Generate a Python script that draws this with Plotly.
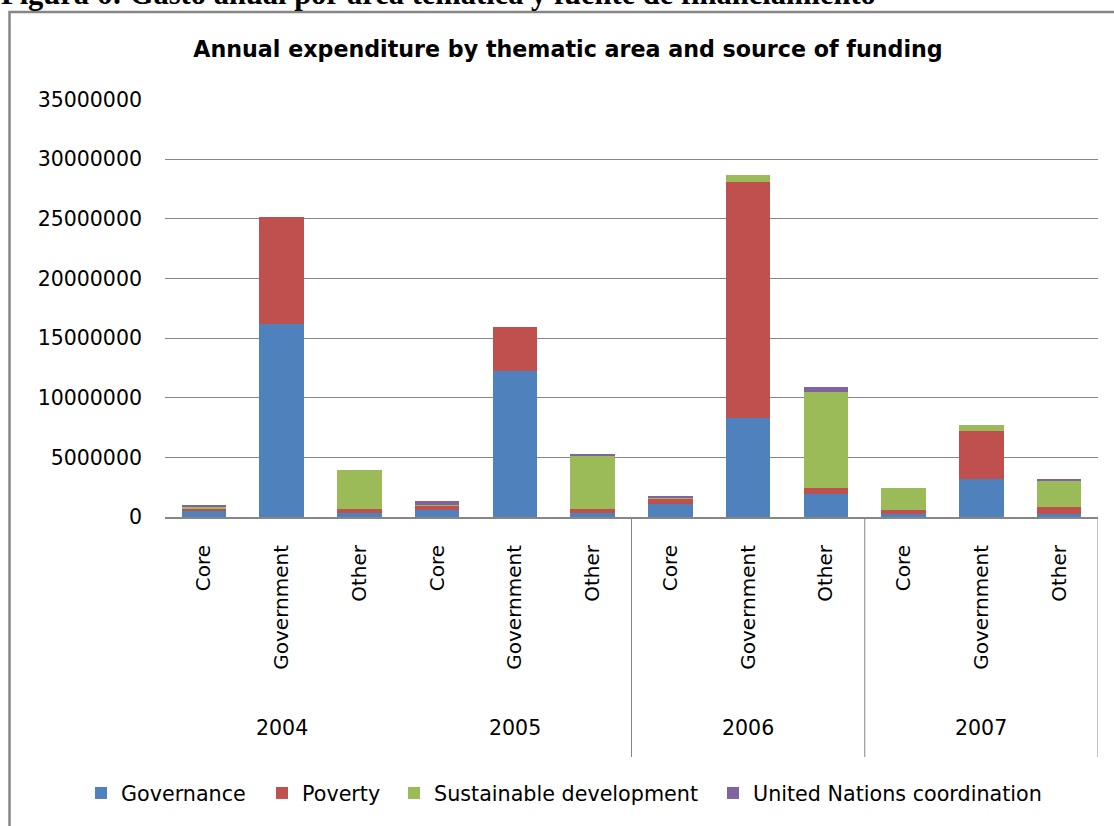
import plotly.graph_objects as go

# ---- data ----
years = ["2004", "2005", "2006", "2007"]
sources = ["Core", "Government", "Other"]
categories = [s for y in years for s in sources]

governance = [500000, 16200000, 330000, 610000, 12200000, 330000,
              1060000, 8300000, 1960000, 280000, 3150000, 280000]
poverty = [170000, 8900000, 340000, 340000, 3700000, 340000,
           480000, 19800000, 500000, 340000, 4040000, 590000]
sustainable = [170000, 0, 3270000, 80000, 0, 4520000,
               80000, 600000, 8000000, 1850000, 510000, 2190000]
un_coord = [100000, 0, 0, 310000, 0, 110000,
            80000, 0, 420000, 0, 0, 80000]

series = [
    ("Governance", governance, "#4F81BD"),
    ("Poverty", poverty, "#C0504D"),
    ("Sustainable development", sustainable, "#9BBB59"),
    ("United Nations coordination", un_coord, "#8064A2"),
]
y_ticks = [0, 5000000, 10000000, 15000000, 20000000, 25000000, 30000000, 35000000]

W, H = 1114, 826
L, R, T, B = 165, 16, 99, 309
PW, PH = W - L - R, H - T - B

def px_x(p):
    return (p - L) / PW

def px_y(p):
    return (H - B - p) / PH

FONT = "DejaVu Sans"
GRAY = "#868686"

# legend text start positions (pixels) for each series' own legend
legend_text_px = [121, 302, 434, 753]
legend_ids = ["legend", "legend2", "legend3", "legend4"]

xs = list(range(len(categories)))
fig = go.Figure()
for (name, vals, col), lid in zip(series, legend_ids):
    fig.add_trace(go.Bar(x=xs, y=vals, name=name, marker_color=col,
                         marker_line_width=0, legend=lid, showlegend=True))

shapes = []
# group dividers (as in the reference: after 2005, 2006, 2007)
for xv in [5.5, 8.5, 11.5]:
    shapes.append(dict(type="line", xref="x", yref="paper", x0=xv, x1=xv,
                       y0=0, y1=px_y(757), line=dict(color=GRAY, width=1)))
# chart frame
shapes.append(dict(type="rect", xref="paper", yref="paper",
                   x0=px_x(9.5), x1=px_x(1130), y0=px_y(845), y1=px_y(12),
                   line=dict(color=GRAY, width=2.5), fillcolor="rgba(0,0,0,0)",
                   layer="below"))

annotations = []
for i, yr in enumerate(years):
    annotations.append(dict(text=yr, xref="x", yref="paper", x=3 * i + 1,
                            y=px_y(728), showarrow=False, yanchor="middle",
                            font=dict(family=FONT, size=20.5, color="black")))
# clipped caption at the very top of the page
annotations.append(dict(text="<b>Figura 6: Gasto anual por área temática y fuente de financiamiento</b>",
                        xref="paper", yref="paper", x=px_x(0), y=px_y(12),
                        xanchor="left", yanchor="bottom", showarrow=False, borderpad=0,
                        font=dict(family="Liberation Serif", size=30.5, color="black")))

legend_common = dict(orientation="h", xanchor="left", yanchor="middle",
                     y=px_y(793), font=dict(family=FONT, size=20.7, color="black"),
                     bgcolor="rgba(0,0,0,0)")
legends = {}
for lid, tx in zip(legend_ids, legend_text_px):
    legends[lid] = dict(legend_common, x=px_x(tx - 40))

fig.update_layout(
    width=W, height=H,
    margin=dict(l=L, r=R, t=T, b=B),
    paper_bgcolor="white", plot_bgcolor="white",
    showlegend=True,
    barmode="stack", bargap=0.43,
    title=dict(text="<b>Annual expenditure by thematic area and source of funding</b>",
               x=px_x(568), xref="paper", xanchor="center",
               y=1 - 49 / H, yref="container", yanchor="middle",
               font=dict(family=FONT, size=22.2, color="black")),
    xaxis=dict(tickmode="array", tickvals=xs, ticktext=categories,
               tickangle=-90, range=[-0.5, 11.5], showgrid=False,
               showline=True, linecolor=GRAY, linewidth=2, ticks="",
               ticklabelstandoff=18, zeroline=False,
               tickfont=dict(family=FONT, size=20, color="black")),
    yaxis=dict(range=[0, 35030000], tickmode="array", tickvals=y_ticks,
               ticktext=[str(v) for v in y_ticks],
               showgrid=True, gridcolor=GRAY, gridwidth=1.3,
               zeroline=False, showline=False, ticks="", ticklabelstandoff=22,
               tickfont=dict(family=FONT, size=20.5, color="black")),
    shapes=shapes,
    annotations=annotations,
    **legends,
)

fig.write_html("out.html")
